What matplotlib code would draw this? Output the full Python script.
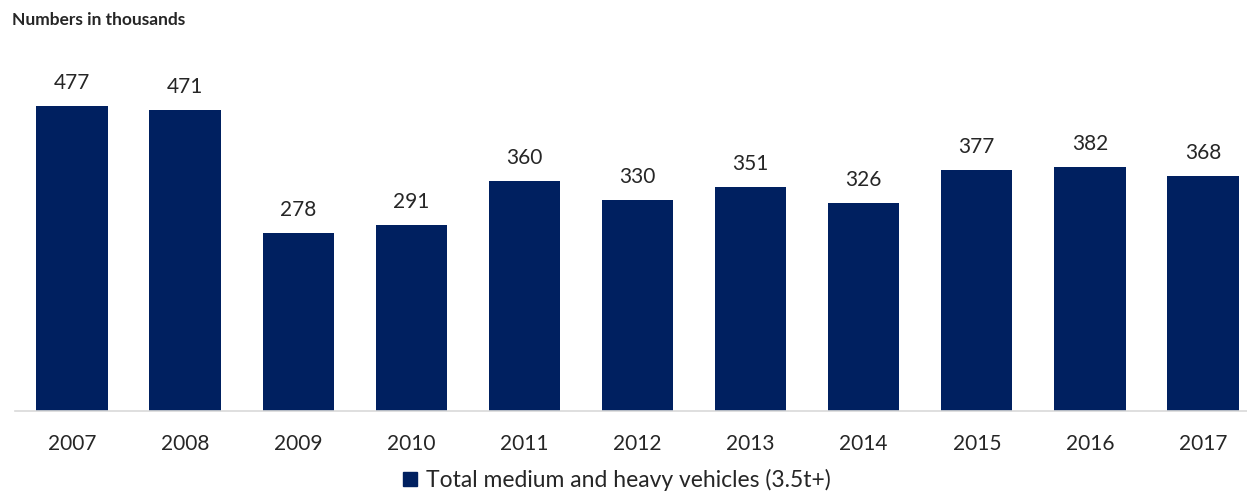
import matplotlib
matplotlib.use("Agg")
import matplotlib.pyplot as plt
from matplotlib.patches import Patch

years = ["2007", "2008", "2009", "2010", "2011", "2012", "2013", "2014", "2015", "2016", "2017"]
values = [477, 471, 278, 291, 360, 330, 351, 326, 377, 382, 368]
series_name = "Total medium and heavy vehicles (3.5t+)"
title = "Numbers in thousands"

plt.rcParams['font.family'] = ['Lato', 'DejaVu Sans']
navy = "#002060"

W, H = 1247, 492
step = 113.1
left_px = 72 - step / 2
fig = plt.figure(figsize=(W / 100, H / 100), dpi=100)
ax = fig.add_axes([left_px / W, 1 - 411 / H, (W - left_px) / W, 345 / H])
x = range(len(years))
ax.bar(x, values, width=0.63, color=navy)
ax.set_xlim(-0.5, -0.5 + (W - left_px) / step)
ax.set_ylim(0, 540)
for xi, v in zip(x, values):
    ax.annotate(str(v), (xi, v), xytext=(0, 9.5), textcoords="offset points",
                ha="center", va="bottom", fontsize=15, color="#262626")
ax.set_xticks(list(x))
ax.set_xticklabels(years, fontsize=15, color="#262626")
ax.tick_params(axis='x', length=0, pad=16.5)
ax.set_yticks([])
for s in ["top", "right", "left"]:
    ax.spines[s].set_visible(False)
ax.spines["bottom"].set_color("#d9d9d9")
ax.spines["bottom"].set_linewidth(1.2)

fig.text(12 / W, 1 - 20 / H, title, fontsize=12.5, fontweight="bold", color="#262626",
         ha="left", va="center")

handle = Patch(facecolor=navy, edgecolor=navy)
fig.legend([handle], [series_name], loc="center", bbox_to_anchor=(617 / W, 1 - 480 / H),
           frameon=False, fontsize=16.5, handlelength=0.6, handleheight=0.6,
           handletextpad=0.4, labelcolor="#262626")

fig.savefig("out.png", dpi=100)
